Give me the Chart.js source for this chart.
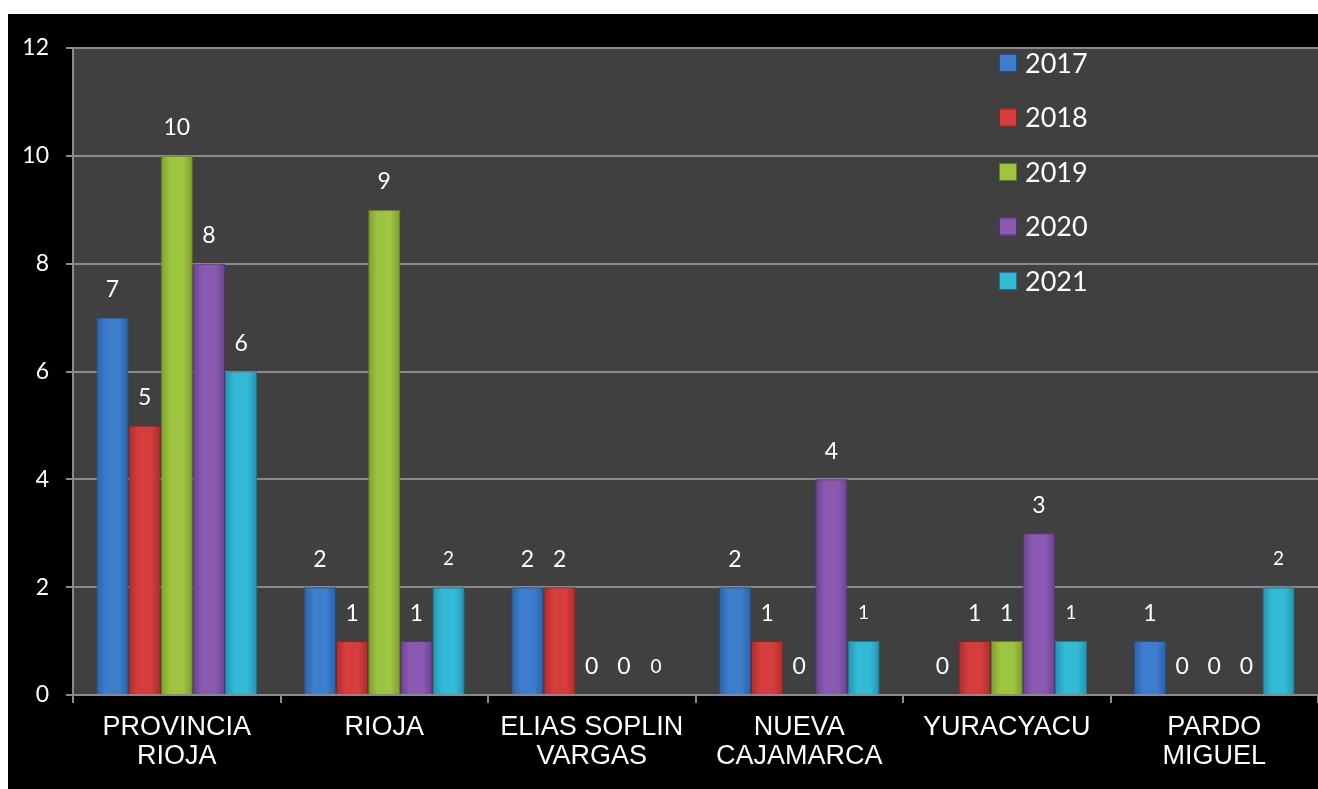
<!DOCTYPE html>
<html>
<head>
<meta charset="utf-8">
<script src="https://cdn.jsdelivr.net/npm/chart.js@4"></script>
<style>
  html, body { margin: 0; background: #fff; }
  #wrap { position: absolute; left: 8px; top: 14px; width: 1310px; height: 775px; background: #000; }
</style>
</head>
<body>
<div id="wrap"><canvas id="chart"></canvas></div>
<script>
const categories = [["PROVINCIA", "RIOJA"], "RIOJA", ["ELIAS SOPLIN", "VARGAS"], ["NUEVA", "CAJAMARCA"], "YURACYACU", ["PARDO", "MIGUEL"]];
const years = ["2017", "2018", "2019", "2020", "2021"];
const values2017 = [7, 2, 2, 2, 0, 1];
const values2018 = [5, 1, 2, 1, 1, 0];
const values2019 = [10, 9, 0, 0, 1, 0];
const values2020 = [8, 1, 0, 4, 3, 0];
const values2021 = [6, 2, 0, 1, 1, 2];
const yTicks = [0, 2, 4, 6, 8, 10, 12];

const fills = ['#3c7dcd', '#d63d3d', '#9ec540', '#8a5ab3', '#32bad7'];
const darks = ['#2b62a8', '#ad2c2c', '#7d9f2e', '#6a4290', '#2392ad'];
const edges = ['#1f4f8a', '#8c2020', '#5f7d22', '#563374', '#1b7a90'];
const series = [values2017, values2018, values2019, values2020, values2021];

// dark plot area behind the bars
const plotBg = {
  id: 'plotBg',
  beforeDraw(chart) {
    const a = chart.chartArea, ctx = chart.ctx;
    ctx.save();
    ctx.fillStyle = '#404040';
    ctx.fillRect(a.left, a.top, a.right - a.left, a.bottom - a.top);
    ctx.restore();
  }
};

// soft horizontal shading on each bar
const barShade = {
  id: 'barShade',
  beforeDatasetsDraw(chart) {
    const ctx = chart.ctx;
    chart.data.datasets.forEach(function(ds, i) {
      chart.getDatasetMeta(i).data.forEach(function(el) {
        const half = el.width / 2;
        const g = ctx.createLinearGradient(el.x - half, 0, el.x + half, 0);
        g.addColorStop(0, darks[i]);
        g.addColorStop(0.3, fills[i]);
        g.addColorStop(0.7, fills[i]);
        g.addColorStop(1, darks[i]);
        el.options.backgroundColor = g;
      });
    });
  }
};

// value on top of each bar
const barLabels = {
  id: 'barLabels',
  afterDatasetsDraw(chart) {
    const ctx = chart.ctx;
    ctx.save();
    ctx.fillStyle = '#fff';
    ctx.textAlign = 'center';
    ctx.textBaseline = 'middle';
    chart.data.datasets.forEach(function(ds, i) {
      chart.getDatasetMeta(i).data.forEach(function(el, j) {
        const small = i === 4 && j > 0;
        ctx.font = (small ? 19 : 23) + 'px Lato';
        ctx.fillText(String(ds.data[j]), el.x, el.y - 28);
      });
    });
    ctx.restore();
  }
};

// legend stacked at the top right
const sideLegend = {
  id: 'sideLegend',
  afterDraw(chart) {
    const ctx = chart.ctx;
    ctx.save();
    ctx.textBaseline = 'middle';
    ctx.font = '27px Lato';
    chart.data.datasets.forEach(function(ds, i) {
      const y = 49 + 54.5 * i;
      ctx.fillStyle = fills[i];
      ctx.fillRect(991, y - 9, 18, 18);
      ctx.strokeStyle = edges[i];
      ctx.lineWidth = 1;
      ctx.strokeRect(991.5, y - 8.5, 17, 17);
      ctx.fillStyle = '#fff';
      ctx.fillText(ds.label, 1017, y + 1);
    });
    ctx.restore();
  }
};

new Chart(document.getElementById('chart'), {
  type: 'bar',
  data: {
    labels: categories,
    datasets: years.map(function(y, i) {
      return {
        label: y,
        data: series[i],
        // scriptable so each bar gets its own options object
        backgroundColor: function() { return fills[i]; },
        borderColor: edges[i],
        borderWidth: 1,
        categoryPercentage: 0.775,
        barPercentage: 1
      };
    })
  },
  options: {
    responsive: true,
    maintainAspectRatio: false,
    animation: false,
    layout: { padding: { top: 34, right: -5, left: 0, bottom: 0 } },
    plugins: {
      legend: { display: false },
      tooltip: { enabled: false }
    },
    scales: {
      x: {
        grid: { display: true, drawOnChartArea: false, color: '#8a8a8a', lineWidth: 2, tickLength: 8 },
        border: { color: '#8a8a8a', width: 2 },
        ticks: {
          color: '#fff',
          font: { family: 'Liberation Sans', size: 27, lineHeight: 1.08 },
          padding: 10,
          maxRotation: 0,
          autoSkip: false
        },
        afterFit: function(s) { s.height = 94; }
      },
      y: {
        min: 0,
        max: 12,
        afterBuildTicks: function(s) { s.ticks = yTicks.map(function(v) { return { value: v }; }); },
        grid: { color: '#8a8a8a', lineWidth: 2, tickLength: 7 },
        border: { color: '#8a8a8a', width: 2 },
        ticks: { color: '#fff', font: { family: 'Lato', size: 23 }, padding: 17 },
        afterFit: function(s) { s.width = 65; }
      }
    }
  },
  plugins: [plotBg, barShade, barLabels, sideLegend]
});
</script>
</body>
</html>
